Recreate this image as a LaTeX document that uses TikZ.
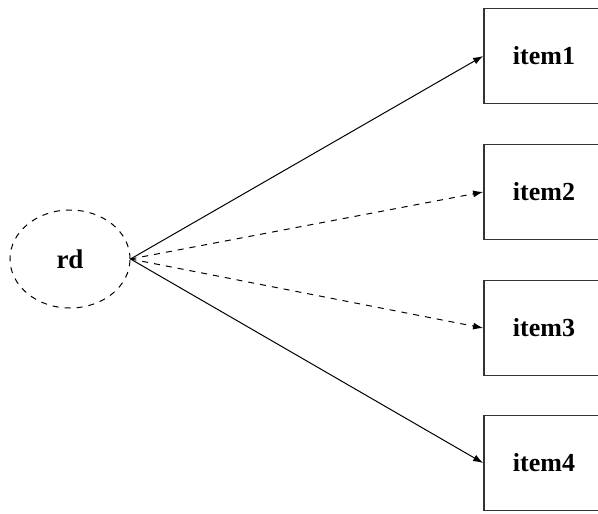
\documentclass[tikz,border=0pt]{standalone}
\usepackage{fontspec}
\setmainfont{Liberation Serif}
\usetikzlibrary{arrows.meta,shapes.geometric}
\begin{document}
\begin{tikzpicture}[x=0.5pt,y=-0.5pt,
  itembox/.style={draw=black!80,line width=0.9pt,minimum width=72pt,minimum height=47.5pt,inner sep=0pt,font=\fontsize{13}{15}\selectfont\bfseries},
  rdnode/.style={ellipse,draw,dashed,line width=0.5pt,minimum width=60pt,minimum height=49pt,inner sep=0pt,font=\fontsize{13.5}{16}\selectfont\bfseries},
  link/.style={-{Latex[length=5pt,width=3.5pt]},line width=0.5pt}
]
\useasboundingbox (0,0) rectangle (598,513);
\clip (0,0) rectangle (598,513);
\node[rdnode] (rd) at (70,259) {rd};
\node[itembox] (i1) at (556,56) {\hspace*{-12pt}item1};
\node[itembox] (i2) at (556,192) {\hspace*{-12pt}item2};
\node[itembox] (i3) at (556,328) {\hspace*{-12pt}item3};
\node[itembox] (i4) at (556,463) {\hspace*{-12pt}item4};
\draw[link] (rd.east) -- (i1.west);
\draw[link,dashed] (rd.east) -- (i2.west);
\draw[link,dashed] (rd.east) -- (i3.west);
\draw[link] (rd.east) -- (i4.west);
\end{tikzpicture}
\end{document}
